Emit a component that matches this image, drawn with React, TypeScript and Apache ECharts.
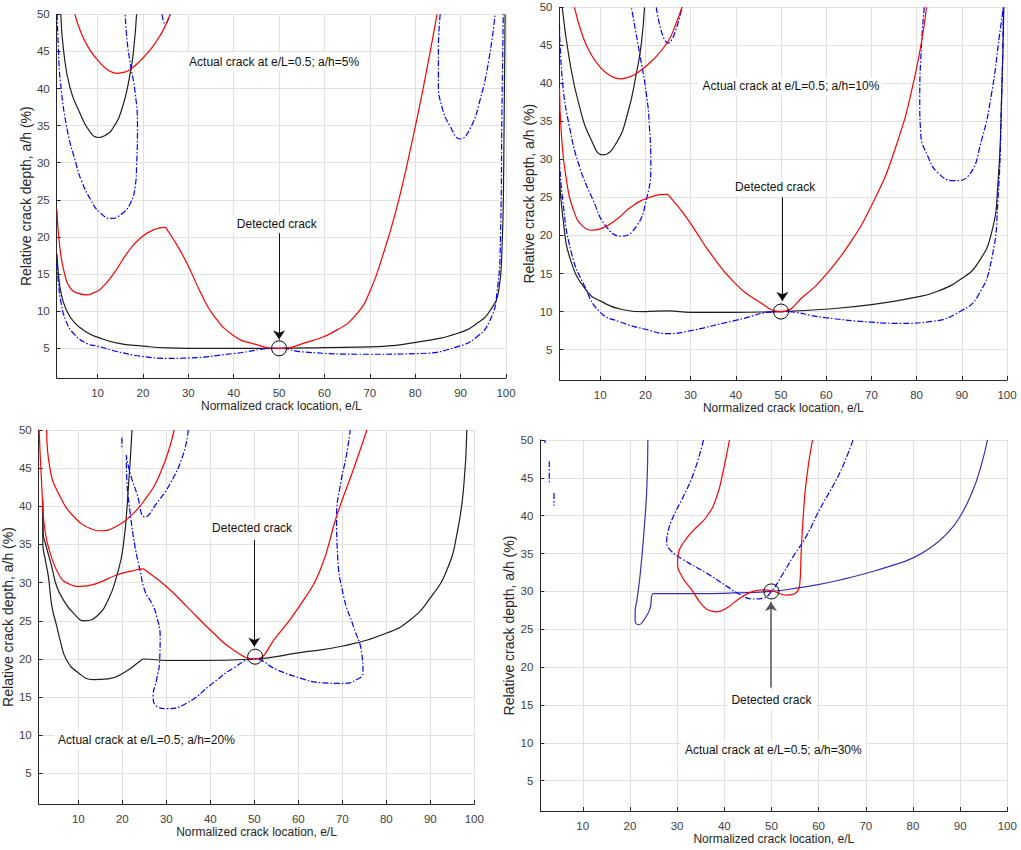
import React, { useEffect, useRef } from "react";
import * as echarts from "echarts";

// ---------- ticks ----------
const xTicks = [10, 20, 30, 40, 50, 60, 70, 80, 90, 100];
const yTicks = [5, 10, 15, 20, 25, 30, 35, 40, 45, 50];

// ---------- panel 1 (a/h = 5%) ----------
const p1RedLower = [[1.06,23.7],[1.58,19.2],[2.67,15.2],[4.14,13],[5.8,12.4],[7.66,12.2],[9.2,12.5],[10.7,13],[13.7,15.2],[16.6,17.9],[19.5,19.9],[22.5,21],[24.9,21.3],[25.1,21.2],[27.6,18.8],[30,16.1],[32.7,12.5],[35.6,9.4],[40,6.7],[44.4,5.6],[50,5.0],[55.4,5.66],[62.7,7.45],[67.2,9.7],[70.1,12.8],[73,17.8],[76,24.1],[78.9,31.7],[81.8,40.2],[84.8,50]];
const p1RedUpper = [[5.0,50],[6.5,47.3],[8.3,45.2],[10.5,43.5],[12.5,42.4],[14.2,42.05],[16,42.2],[17.5,42.7],[19.5,43.8],[21.6,45.2],[23,46.4],[24.5,47.9],[26,50]];
const p1BlackUpper = [[1.9,50],[2.5,45.2],[3.9,40.2],[6.1,36.7],[8.3,34.2],[10.2,33.4],[11.7,33.7],[13.1,34.4],[15.3,37.1],[17.2,42.05],[18,45.5],[18.6,50]];
const p1BlackLower = [[1.06,17.7],[1.36,15.2],[1.94,12.5],[3.04,10.3],[4.87,8.5],[7.8,7.1],[10,6.5],[14.4,5.7],[20,5.3],[25.4,5.05],[30,5.0],[40,5.0],[50,5.0],[60,5.1],[70.1,5.2],[81.1,5.9],[89.2,7.0],[93.6,8.35],[96.5,10.1],[98.4,12.8],[99.1,18.2],[99.5,29.5],[99.8,50]];
const p1BlueLower = [[1.06,16.3],[1.36,13.9],[1.94,11.2],[3.04,8.7],[4.87,6.9],[7.8,5.6],[10,5.3],[14.4,4.55],[20,3.9],[25.4,3.65],[30,3.7],[40,4.3],[50,5.0],[55.4,4.5],[70.1,4.2],[81.1,4.3],[89.2,5.2],[93.6,6.55],[96.5,8.8],[98,12.4],[98.8,20.5],[99.1,36.5],[99.4,50]];
const p1BlueLoop = [[1.1,50],[1.4,45],[1.8,41],[3.3,34.5],[5.2,30],[6.5,27.5],[8.5,25],[10.5,23.3],[13.1,22.5],[15.3,23.1],[17.2,24.5],[18.3,26.8],[18.6,29.5],[18.8,34.9],[18.3,39.4],[17.2,43.4],[16.5,46.5],[16.1,50]];
const p1BlueV = [[24.2,50],[24.9,48.7],[26.0,50]];
const p1BlueRight = [[85.5,50],[85.1,45.2],[85.1,40.7],[85.9,37.5],[87.7,34.9],[89.9,33.2],[92.1,34.6],[94.3,38.5],[96.2,43.8],[97.6,50]];

// ---------- panel 2 (a/h = 10%) ----------
const p2RedLower = [[1,39.4],[1.4,33.5],[2.5,27.4],[4.3,23],[6.2,21.2],[8.4,20.7],[10.6,21],[13.6,22.1],[17.2,23.9],[20.9,25],[24.9,25.4],[25.1,25.3],[28.3,23],[31.3,20.4],[34.2,17.8],[39.7,13.8],[44.9,11.4],[50,10],[55.2,12.1],[59.7,14.7],[64.8,18.6],[70,23.9],[75.2,31.3],[79.6,40.9],[82.2,50]];
const p2RedUpper = [[4.3,50],[6.2,46.1],[8,43.8],[9.9,42.2],[12,41.1],[14.3,40.6],[16.2,40.8],[18,41.3],[21.7,43.1],[25,45.5],[26.8,47.9],[28.1,50]];
const p2BlackUpper = [[1.6,50],[3.2,43.1],[5.4,37],[8,32.6],[10.6,30.6],[13.6,32.2],[16.1,36.1],[18,41.3],[19.1,45.2],[19.8,50]];
const p2BlackLower = [[1,28],[1.7,22.6],[3.6,16.5],[7.3,12.5],[10,11.4],[14.6,10.3],[19.8,10],[25,10.1],[30.1,9.9],[39.7,9.9],[50,10],[59.7,10.3],[70,10.9],[80,11.9],[84.8,12.7],[89.9,14.3],[93.6,16.4],[96.6,20.4],[98,26.9],[98.8,37.9],[99.3,50]];
const p2BlueLower = [[1,30],[1.7,24.7],[3.6,17.8],[6.5,13.4],[10,9.9],[14.6,8.6],[19.8,7.7],[25,7.1],[30.1,7.5],[39.7,8.8],[50,10],[59.7,9.2],[70,8.6],[76.6,8.45],[83.3,8.7],[89.9,10.1],[93.6,12.1],[96.6,16.9],[98,24.7],[98.8,37.9],[99.2,50]];
const p2BlueLoop = [[1,47.7],[1.7,40],[3.2,34.3],[5.4,29.1],[8.4,24.7],[11.3,21.2],[14.7,19.9],[18,21.2],[20.2,24.7],[21.2,29.1],[20.9,34.3],[20.2,38.7],[18.7,44],[16.9,50]];
const p2BlueV = [[22.4,50],[25,45.3],[28.1,50]];
const p2BlueRight = [[81.7,50],[81.1,45.3],[80.7,37.9],[80.9,33.5],[82.5,30.4],[84.8,28.2],[88.3,27.2],[91.4,27.8],[94.4,32.6],[96.6,38.7],[98.4,46.6],[99.2,50]];

// ---------- panel 3 (a/h = 20%) ----------
const p3RedLower = [[1.1,50],[1.7,42.6],[2.4,36.9],[3.6,33.9],[5.85,30.8],[8,29.8],[10.4,29.5],[14.2,29.9],[18.7,31],[22,31.5],[24.8,31.8],[25.1,31.7],[30,29.5],[34.6,26.9],[40.7,23.4],[45.2,21.2],[50,20],[55.1,23],[60,26.7],[65,31.7],[68.7,38.7],[72.5,44.8],[75.6,50]];
const p3RedUpper = [[2.8,50],[3.6,44.8],[5.85,41.3],[8.9,38.7],[12.7,37.1],[15.3,36.8],[18.7,37.4],[21.8,38.7],[24.8,40.6],[28.6,44.3],[31.8,50]];
const p3BlackUpper = [[1.9,40.8],[2.0,36.5],[2.6,35],[3.96,32.1],[5.1,29.5],[6.6,27.75],[8.9,26],[11.5,25],[14.2,25.6],[16.8,27.75],[18.7,30.8],[20.2,34.7],[21.4,42.6],[22.2,50]];
const p3BlackLower = [[1.9,40.8],[1.95,35],[2.5,33],[3.2,30.8],[4,26.9],[5.1,24.3],[5.85,22.5],[7.3,19.9],[10,18.2],[13.3,17.3],[16.8,17.4],[20.9,18.4],[24,19.7],[24.9,20],[30,19.8],[37.6,19.8],[50,20],[60,20.8],[70.1,21.7],[80.1,23.4],[85.4,25.1],[90,28],[93.8,31.7],[96.1,36.5],[97.6,42.6],[98.3,50]];
const p3BlueSeg = [[19.9,49],[19.9,47.6]];
const p3BlueMain = [[35,50],[33.9,46.9],[30.9,43],[27.8,40.4],[25.2,38.6],[23.3,41.7],[21.8,44.3],[20.9,46.7],[21,43.9],[21.8,39.1],[22.9,34.7],[24,31.7],[25.2,28.8],[26.7,27.3],[27.8,25.6],[28.6,22.9],[28.5,19.9],[27.8,17.3],[27,15.1],[27.8,13.8],[30,13.5],[34.6,14.2],[40.7,16.9],[45.2,18.8],[50,20],[55.1,18.6],[60.4,17.5],[65,16.9],[70.3,16.8],[73.3,17.3],[74.7,18.2],[74.4,20.8],[72.5,24.3],[70.3,28.2],[68.9,33.9],[68.7,38.7],[69.5,42.6],[71,46.9],[71.8,50]];

// ---------- panel 4 (a/h = 30%) ----------
const p4Indigo = [[23.8,50],[23.6,43.9],[23,38.1],[22.2,32.4],[21.5,28.9],[21.1,27.2],[21.1,26.1],[22,25.6],[23,26.3],[24.2,27.6],[25,29.7],[29.9,29.7],[34.9,29.7],[41.9,29.8],[50,30],[56,30.5],[59.9,30.9],[65.1,31.6],[70.1,32.4],[75,33.3],[79.9,34.4],[84.2,36],[87,37.5],[89.8,39.7],[92.6,43.2],[94.4,46.5],[95.8,50]];
const p4Red = [[41.1,50],[39.8,46],[38.4,42.5],[36.3,39.9],[33.5,38.1],[31.3,36.4],[30.3,35.1],[30.1,33.8],[31,32],[33.1,30.2],[35.6,28],[37.3,27.4],[38.4,27.3],[40.5,27.8],[43.3,29.1],[46.1,30],[48.2,30.2],[50,30.1],[51.8,29.7],[53.2,29.5],[54.9,29.7],[56,30.9],[56.3,35.1],[56.7,39.5],[57.4,44.7],[58.7,50]];
const p4Blue = [[35.6,50],[33.5,45.6],[31.3,42.5],[29.2,39.9],[28,37.7],[27.8,36.6],[28.5,35.5],[31.3,34.2],[36.3,32.4],[40.5,30.7],[43.3,29.6],[46.1,29],[48.2,29.1],[50,30],[52.5,32.4],[54.6,34.6],[57.4,37.3],[60.2,40.8],[63,43.9],[65.1,46.5],[67.3,50]];
const p4BlueFrag1 = [[2.0,50],[2.0,49.6]];
const p4BlueFrag2 = [[2.9,47.2],[2.9,44.3]];
const p4BlueFrag3 = [[3.9,43],[3.9,41.3]];

// ---------- annotations (data coordinates) ----------
const actualLabels = ["Actual crack at e/L=0.5; a/h=5%", "Actual crack at e/L=0.5; a/h=10%", "Actual crack at e/L=0.5; a/h=20%", "Actual crack at e/L=0.5; a/h=30%"];
const actualPos = [[48.9, 43.6], [52.2, 39.6], [25.5, 9.35], [50.4, 9.05]];
const detectedPos = [[49.5, 21.8], [48.7, 26.4], [49.5, 37.2], [50, 15.6]];
const arrowFrom = [[50, 20.5], [50.3, 25], [50, 35.6], [49.9, 17.3]];
const arrowTo = [[50, 6.2], [50.3, 11.4], [50, 21.6], [49.9, 28.6]];
const circlePos = [[50, 5], [50, 10], [50.2, 20.3], [50, 30]];

const FONT = "'Liberation Sans', Arial, Helvetica, sans-serif";
const C = { black: "#1f1f1f", red: "#ff0000", blue: "#0000ff", indigo: "#3b2fb3" };
const DASHDOT = [6, 2, 1.5, 2];

const grids = [
  { left: 56.7, top: 14.3, width: 449.3, height: 363.7 },
  { left: 559.5, top: 7.3, width: 447.5, height: 372.7 },
  { left: 38.7, top: 430, width: 435.6, height: 374 },
  { left: 540.3, top: 440, width: 467, height: 371 },
];
const yNameGap = [23, 21.5, 18.5, 24];
const xNameGap = [22, 21, 21.5, 20.5];

function ln(gi: number, data: number[][], color: string, dashed = false) {
  return {
    type: "line",
    xAxisIndex: gi,
    yAxisIndex: gi,
    data,
    showSymbol: false,
    symbol: "none",
    smooth: 0.5,
    silent: true,
    z: 3,
    lineStyle: { color, width: 1.2, type: dashed ? DASHDOT : "solid" },
  };
}

function annot(gi: number, arrowColor: string, arrowWidth: number) {
  const textLabel = (t: string) => ({
    show: true,
    position: "inside",
    formatter: t,
    color: "#111",
    fontSize: 12,
    fontFamily: FONT,
    backgroundColor: "#ffffff",
    padding: [3, 4],
  });
  return {
    type: "scatter",
    xAxisIndex: gi,
    yAxisIndex: gi,
    data: [],
    silent: true,
    z: 10,
    markPoint: {
      silent: true,
      animation: false,
      data: [
        { coord: actualPos[gi], symbol: "circle", symbolSize: 1, itemStyle: { color: "rgba(0,0,0,0)" }, label: textLabel(actualLabels[gi]) },
        { coord: detectedPos[gi], symbol: "circle", symbolSize: 1, itemStyle: { color: "rgba(0,0,0,0)" }, label: textLabel("Detected crack") },
        { coord: circlePos[gi], symbol: "circle", symbolSize: 15, itemStyle: { color: "rgba(0,0,0,0)", borderColor: "#000", borderWidth: 1 }, label: { show: false } },
      ],
    },
    markLine: {
      silent: true,
      animation: false,
      symbol: ["none", "arrow"],
      symbolSize: 9,
      label: { show: false },
      itemStyle: { color: arrowColor },
      lineStyle: { color: arrowColor, width: arrowWidth, type: "solid" },
      data: [[{ coord: arrowFrom[gi] }, { coord: arrowTo[gi] }]],
    },
  };
}

export default function App() {
  const ref = useRef<HTMLDivElement>(null);
  useEffect(() => {
    if (!ref.current) return;
    const chart = echarts.init(ref.current, undefined, { renderer: "svg" });
    const xAxis = grids.map((_, i) => ({
      type: "value",
      gridIndex: i,
      min: 1,
      max: 100,
      name: "Normalized crack location, e/L",
      nameLocation: "middle",
      nameGap: xNameGap[i],
      nameTextStyle: { fontSize: 12, color: "#262626", fontFamily: FONT },
      axisLine: { show: true, onZero: false, lineStyle: { color: "#262626", width: 1 } },
      axisTick: { show: true, inside: true, length: 4, customValues: xTicks, lineStyle: { color: "#262626" } },
      axisLabel: { customValues: xTicks, fontSize: 11.5, color: "#404040", margin: 9, fontFamily: FONT },
      splitLine: { show: true, lineStyle: { color: "#e1e1e1", width: 1 } },
    }));
    const yAxis = grids.map((_, i) => ({
      type: "value",
      gridIndex: i,
      min: 1,
      max: 50,
      name: "Relative crack depth, a/h (%)",
      nameLocation: "middle",
      nameGap: yNameGap[i],
      nameTextStyle: { fontSize: 14, color: "#262626", fontFamily: FONT },
      axisLine: { show: true, onZero: false, lineStyle: { color: "#262626", width: 1 } },
      axisTick: { show: true, inside: true, length: 4, customValues: yTicks, lineStyle: { color: "#262626" } },
      axisLabel: { customValues: yTicks, fontSize: 11.5, color: "#404040", margin: 7, fontFamily: FONT },
      splitLine: { show: true, lineStyle: { color: "#e1e1e1", width: 1 } },
    }));
    const series = [
      // panel 1
      ln(0, p1BlackUpper, C.black), ln(0, p1BlackLower, C.black),
      ln(0, p1BlueLoop, C.blue, true), ln(0, p1BlueV, C.blue, true), ln(0, p1BlueRight, C.blue, true), ln(0, p1BlueLower, C.blue, true),
      ln(0, p1RedUpper, C.red), ln(0, p1RedLower, C.red),
      annot(0, "#111111", 1),
      // panel 2
      ln(1, p2BlackUpper, C.black), ln(1, p2BlackLower, C.black),
      ln(1, p2BlueLoop, C.blue, true), ln(1, p2BlueV, C.blue, true), ln(1, p2BlueRight, C.blue, true), ln(1, p2BlueLower, C.blue, true),
      ln(1, p2RedUpper, C.red), ln(1, p2RedLower, C.red),
      annot(1, "#111111", 1),
      // panel 3
      ln(2, p3BlackUpper, C.black), ln(2, p3BlackLower, C.black),
      ln(2, p3BlueSeg, C.blue, true), ln(2, p3BlueMain, C.blue, true),
      ln(2, p3RedUpper, C.red), ln(2, p3RedLower, C.red),
      annot(2, "#111111", 1),
      // panel 4
      ln(3, p4Indigo, C.indigo),
      ln(3, p4Blue, C.blue, true),
      ln(3, p4BlueFrag1, C.blue, true), ln(3, p4BlueFrag2, C.blue, true), ln(3, p4BlueFrag3, C.blue, true),
      ln(3, p4Red, C.red),
      annot(3, "#555555", 1.5),
    ];
    chart.setOption({
      animation: false,
      backgroundColor: "#ffffff",
      grid: grids.map((g) => ({ ...g, containLabel: false })),
      xAxis,
      yAxis,
      series,
    } as any);
    return () => chart.dispose();
  }, []);
  return (
    <div
      ref={ref}
      style={{ position: "absolute", left: 0, top: 0, width: 1021, height: 850, background: "#fff" }}
    />
  );
}
